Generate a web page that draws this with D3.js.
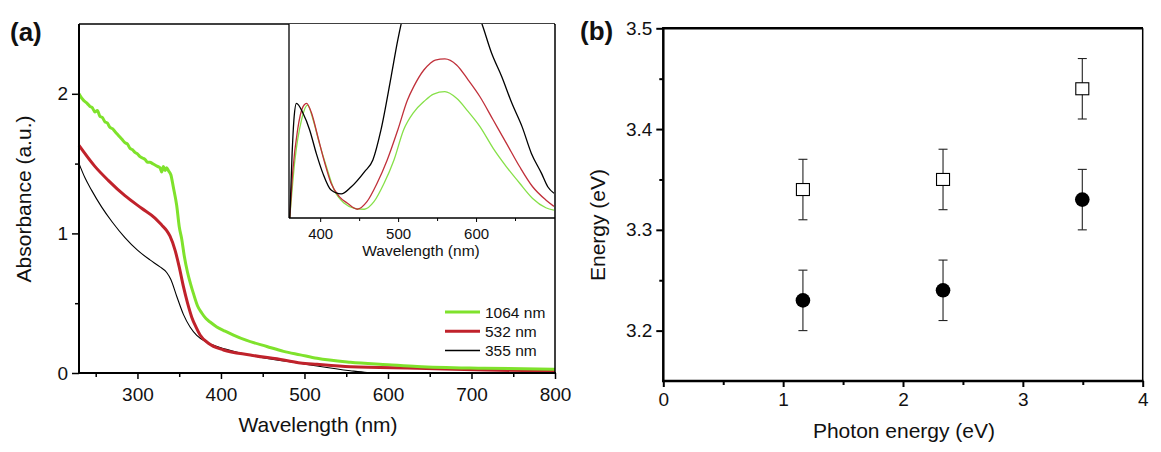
<!DOCTYPE html>
<html><head><meta charset="utf-8">
<script src="https://cdn.jsdelivr.net/npm/d3@7"></script>
<style>
body{margin:0;background:#fff;}
svg{display:block;font-family:"Liberation Sans",Arial,sans-serif;}
</style></head>
<body>
<svg id="c" width="1161" height="452"></svg>
<script>
// ---------- Panel (a) main absorbance spectra ----------
const wl1064 = [230,233,236,240,243,246,249,252,255,258,261,264,267,270,273,276,279,282,285,288,291,294,297,300,303,306,309,312,315,318,321,324,327,329,331,333,335,337,340,343,347,350,353,356,360,364,367,372,377,382,387,395,405,415,430,455,475,495,515,555,600,635,715,800];
const abs1064 = [2.00,1.97,1.95,1.93,1.91,1.90,1.87,1.88,1.84,1.83,1.80,1.79,1.76,1.75,1.73,1.71,1.69,1.67,1.65,1.64,1.61,1.60,1.58,1.57,1.55,1.54,1.53,1.51,1.51,1.50,1.49,1.48,1.47,1.44,1.48,1.45,1.47,1.45,1.42,1.33,1.20,1.05,0.96,0.84,0.72,0.63,0.57,0.48,0.43,0.39,0.365,0.33,0.30,0.272,0.235,0.19,0.155,0.13,0.105,0.077,0.06,0.047,0.034,0.027];
const wl532 = [230,249,265,285,305,321,329,335,339,345,350,355,360,365,370,375,385,403,435,475,495,515,555,635,715,800];
const abs532 = [1.63,1.48,1.38,1.27,1.18,1.11,1.06,1.02,0.98,0.88,0.76,0.62,0.50,0.40,0.33,0.272,0.213,0.165,0.129,0.093,0.072,0.062,0.045,0.034,0.021,0.015];
const wl355 = [230,237,245,257,270,285,300,315,327,335,340,347,355,363,371,383,400,415,455,495,515,555,575,600,800];
const abs355 = [1.50,1.40,1.31,1.19,1.08,0.97,0.88,0.81,0.76,0.72,0.67,0.55,0.42,0.33,0.27,0.22,0.18,0.155,0.105,0.07,0.05,0.016,0.004,0,0];

// ---------- Panel (a) inset spectra (arbitrary units) ----------
const inWlBlack = [361,364,366.6,369.5,378,386.5,395,403.5,414,427,440,457,467.6,478,491,499.6,505,520,540,560,580,600,607.6,620,633,646,659,671,684,692,700];
const inBlack   = [0,0.333,0.522,0.591,0.54,0.454,0.333,0.23,0.144,0.124,0.161,0.239,0.299,0.454,0.728,0.918,1.02,1.2,1.32,1.36,1.28,1.08,1.0,0.849,0.728,0.591,0.471,0.333,0.23,0.161,0.127];
const inWlRed = [361,365,371,378,382.5,389,397,406,414,424.5,435,447.6,460,473,486,499.6,512,520,533,541,547.6,560,575,590,605,622,639,656,672.6,689.5,700];
const inRed   = [0,0.247,0.454,0.574,0.591,0.54,0.419,0.282,0.179,0.11,0.076,0.045,0.084,0.179,0.299,0.454,0.608,0.677,0.763,0.797,0.814,0.82,0.789,0.711,0.625,0.505,0.385,0.264,0.161,0.093,0.06];
const inWlGreen = [361,367.6,376,383.7,391,399,408,418,431,444,456.6,469,482,494.7,507,520,533,545.5,560,575,590,605,622,639,656,672.6,689.5,700];
const inGreen   = [0,0.299,0.505,0.582,0.505,0.385,0.264,0.144,0.076,0.05,0.045,0.084,0.179,0.299,0.454,0.545,0.6,0.639,0.651,0.617,0.548,0.471,0.359,0.264,0.179,0.101,0.053,0.04];

const legendLabels = ["1064 nm","532 nm","355 nm"];
const mainXTicks = [300,400,500,600,700,800];
const mainYTicks = [0,1,2];
const insetXTicks = [400,500,600];

// ---------- Panel (b) ----------
const photonE   = [1.165,2.334,3.496];
const openE     = [3.34,3.35,3.44];
const openErr   = [0.03,0.03,0.03];
const filledE   = [3.23,3.24,3.33];
const filledErr = [0.03,0.03,0.03];
const bXTicks = [0,1,2,3,4];
const bYTicks = [3.2,3.3,3.4,3.5];

const svg = d3.select("#c");
const FONT = "\"Liberation Sans\",Arial,sans-serif";
const GREEN = "#7fe22c", RED = "#c0222b";

function styleAxis(g, fs, sw){
  g.select(".domain").remove();
  g.selectAll("line").attr("stroke","#000").attr("stroke-width",sw);
  g.selectAll("text").attr("font-size",fs).attr("fill","#111").attr("font-family",FONT);
}

// ===== Panel (a) =====
const ax = d3.scaleLinear().domain([230,800]).range([79,555]);
const ay = d3.scaleLinear().domain([0,2.5]).range([373,24]);

const gA = svg.append("g");
// axes
gA.append("g").attr("transform","translate(0,373)")
  .call(d3.axisBottom(ax).tickValues(d3.range(250,800,100)).tickSize(4).tickFormat(""))
  .call(g=>styleAxis(g,19,1.5));
gA.append("g").attr("transform","translate(0,373)")
  .call(d3.axisBottom(ax).tickValues(mainXTicks).tickSize(6).tickPadding(9).tickFormat(d3.format("d")))
  .call(g=>styleAxis(g,19,1.5));
gA.append("g").attr("transform","translate(79,0)")
  .call(d3.axisLeft(ay).tickValues([0.5,1.5]).tickSize(4).tickFormat(""))
  .call(g=>styleAxis(g,19,1.5));
gA.append("g").attr("transform","translate(79,0)")
  .call(d3.axisLeft(ay).tickValues(mainYTicks).tickSize(7).tickPadding(4).tickFormat(d3.format("d")))
  .call(g=>styleAxis(g,19,1.5));

const lineA = (xs,ys)=>d3.line().x((d,i)=>ax(xs[i])).y((d,i)=>ay(ys[i])).curve(d3.curveMonotoneX)(xs);
gA.append("path").attr("d",lineA(wl355,abs355)).attr("fill","none").attr("stroke","#000").attr("stroke-width",1.1);
gA.append("path").attr("d",lineA(wl532,abs532)).attr("fill","none").attr("stroke",RED).attr("stroke-width",3);
gA.append("path").attr("d",lineA(wl1064,abs1064)).attr("fill","none").attr("stroke",GREEN).attr("stroke-width",3);

// frame
gA.append("line").attr("x1",79).attr("x2",555).attr("y1",24).attr("y2",24).attr("stroke","#000").attr("stroke-width",1.5);
gA.append("line").attr("x1",555).attr("x2",555).attr("y1",24).attr("y2",373).attr("stroke","#000").attr("stroke-width",1.5);
gA.append("line").attr("x1",79).attr("x2",79).attr("y1",24).attr("y2",373).attr("stroke","#000").attr("stroke-width",2);
gA.append("line").attr("x1",78).attr("x2",556).attr("y1",373).attr("y2",373).attr("stroke","#000").attr("stroke-width",2.2);

// legend
const legColors = [GREEN,RED,"#000"], legW=[3,3,1.5];
legendLabels.forEach((t,i)=>{
  const y = 312 + i*19.3;
  gA.append("line").attr("x1",445).attr("x2",480).attr("y1",y).attr("y2",y).attr("stroke",legColors[i]).attr("stroke-width",legW[i]);
  gA.append("text").attr("x",485).attr("y",y+5.5).attr("font-size",15.5).attr("fill","#111").text(t);
});

// titles
gA.append("text").attr("x",318).attr("y",432).attr("text-anchor","middle").attr("font-size",21).attr("fill","#111").text("Wavelength (nm)");
gA.append("text").attr("transform","translate(31,199) rotate(-90)").attr("text-anchor","middle").attr("font-size",21).attr("fill","#111").text("Absorbance (a.u.)");
gA.append("text").attr("x",10).attr("y",41).attr("font-size",26).attr("font-weight","bold").attr("fill","#111").text("(a)");

// ===== Inset =====
const ix = d3.scaleLinear().domain([360,700]).range([289,554]);
const iy = d3.scaleLinear().domain([0,1]).range([218,24]);
const gI = svg.append("g");
gI.append("rect").attr("x",289).attr("y",24).attr("width",265).attr("height",194).attr("fill","#fff");
svg.append("defs").append("clipPath").attr("id","ic").append("rect").attr("x",289).attr("y",24).attr("width",265).attr("height",194);
const lineI = (xs,ys)=>d3.line().x((d,i)=>ix(xs[i])).y((d,i)=>iy(ys[i])).curve(d3.curveMonotoneX)(xs);
const gIc = gI.append("g").attr("clip-path","url(#ic)");
gIc.append("path").attr("d",lineI(inWlGreen,inGreen)).attr("fill","none").attr("stroke","#86e048").attr("stroke-width",1.3);
gIc.append("path").attr("d",lineI(inWlRed,inRed)).attr("fill","none").attr("stroke","#c0303a").attr("stroke-width",1.3);
gIc.append("path").attr("d",lineI(inWlBlack,inBlack)).attr("fill","none").attr("stroke","#000").attr("stroke-width",1.3);
gI.append("g").attr("transform","translate(0,218)")
  .call(d3.axisBottom(ix).tickValues([450,550,650]).tickSize(3).tickFormat(""))
  .call(g=>styleAxis(g,15,1));
gI.append("g").attr("transform","translate(0,218)")
  .call(d3.axisBottom(ix).tickValues(insetXTicks).tickSize(4).tickPadding(6).tickFormat(d3.format("d")))
  .call(g=>styleAxis(g,15,1));
gI.append("line").attr("x1",289).attr("x2",555).attr("y1",218).attr("y2",218).attr("stroke","#000").attr("stroke-width",1.5);
gI.append("line").attr("x1",289).attr("x2",289).attr("y1",24).attr("y2",218).attr("stroke","#000").attr("stroke-width",1.3);
gI.append("text").attr("x",421).attr("y",256).attr("text-anchor","middle").attr("font-size",15.5).attr("fill","#111").text("Wavelength (nm)");

// ===== Panel (b) =====
const bx = d3.scaleLinear().domain([0,4]).range([663.3,1142.7]);
const by = d3.scaleLinear().domain([3.15,3.5]).range([381,28.3]);
const gB = svg.append("g");
gB.append("g").attr("transform","translate(0,381)")
  .call(d3.axisBottom(bx).tickValues([0.5,1.5,2.5,3.5]).tickSize(4).tickFormat(""))
  .call(g=>styleAxis(g,19,2));
gB.append("g").attr("transform","translate(0,381)")
  .call(d3.axisBottom(bx).tickValues(bXTicks).tickSize(6).tickPadding(6).tickFormat(d3.format("d")))
  .call(g=>styleAxis(g,19,2));
gB.append("g").attr("transform","translate(663.3,0)")
  .call(d3.axisLeft(by).tickValues([3.25,3.35,3.45]).tickSize(4).tickFormat(""))
  .call(g=>styleAxis(g,19,2));
gB.append("g").attr("transform","translate(663.3,0)")
  .call(d3.axisLeft(by).tickValues(bYTicks).tickSize(7).tickPadding(4).tickFormat(d3.format(".1f")))
  .call(g=>styleAxis(g,19,2));
gB.append("line").attr("x1",663.3).attr("x2",1143).attr("y1",28.3).attr("y2",28.3).attr("stroke","#000").attr("stroke-width",2.5);
gB.append("line").attr("x1",1142.7).attr("x2",1142.7).attr("y1",28.3).attr("y2",381).attr("stroke","#000").attr("stroke-width",1.5);
gB.append("line").attr("x1",663.3).attr("x2",663.3).attr("y1",27).attr("y2",382).attr("stroke","#000").attr("stroke-width",2.5);
gB.append("line").attr("x1",662).attr("x2",1143.5).attr("y1",381).attr("y2",381).attr("stroke","#000").attr("stroke-width",2.5);

function errBars(vals, errs){
  photonE.forEach((e,i)=>{
    const x = bx(e), y1 = by(vals[i]+errs[i]), y2 = by(vals[i]-errs[i]);
    gB.append("line").attr("x1",x).attr("x2",x).attr("y1",y1).attr("y2",y2).attr("stroke","#222").attr("stroke-width",1.1);
    [y1,y2].forEach(y=>gB.append("line").attr("x1",x-4.5).attr("x2",x+4.5).attr("y1",y).attr("y2",y).attr("stroke","#222").attr("stroke-width",1.1));
  });
}
errBars(openE, openErr);
errBars(filledE, filledErr);
photonE.forEach((e,i)=>{
  gB.append("rect").attr("x",bx(e)-6.5).attr("y",by(openE[i])-6).attr("width",13).attr("height",12)
    .attr("fill","#fff").attr("stroke","#000").attr("stroke-width",1.1);
  gB.append("circle").attr("cx",bx(e)).attr("cy",by(filledE[i])).attr("r",7.3).attr("fill","#000");
});

gB.append("text").attr("x",904).attr("y",438).attr("text-anchor","middle").attr("font-size",21).attr("fill","#111").text("Photon energy (eV)");
gB.append("text").attr("transform","translate(605,225) rotate(-90)").attr("text-anchor","middle").attr("font-size",21).attr("fill","#111").text("Energy (eV)");
gB.append("text").attr("x",580).attr("y",40).attr("font-size",26).attr("font-weight","bold").attr("fill","#111").text("(b)");
</script>
</body></html>
